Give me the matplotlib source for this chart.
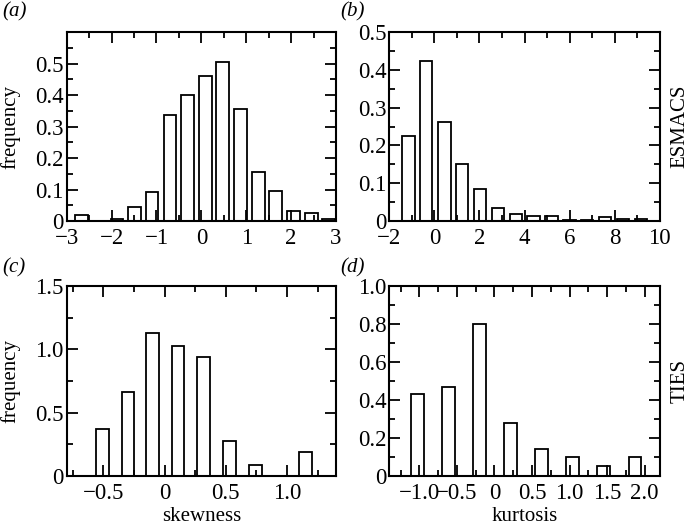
import numpy as np
import matplotlib.pyplot as plt
from matplotlib.ticker import MultipleLocator, FixedLocator, FixedFormatter

plt.rcParams["font.family"] = ["Liberation Serif", "DejaVu Serif"]
plt.rcParams["axes.unicode_minus"] = True

# ESMACS skewness (a)
a_centers = [-2.67, -2.27, -1.88, -1.49, -1.10, -0.70, -0.30, 0.09, 0.48, 0.88, 1.27, 1.66, 2.06, 2.45, 2.84]
a_freq = [0.018, 0.0, 0.006, 0.044, 0.091, 0.337, 0.401, 0.461, 0.506, 0.357, 0.155, 0.096, 0.033, 0.025, 0.005]

# ESMACS kurtosis (b)
b_centers = [-1.15, -0.36, 0.44, 1.23, 2.02, 2.82, 3.61, 4.40, 5.19, 5.99, 6.78, 7.57, 8.37, 9.16]
b_freq = [0.225, 0.423, 0.262, 0.151, 0.084, 0.035, 0.019, 0.012, 0.012, 0.004, 0.003, 0.011, 0.006, 0.006]

# TIES skewness (c)
c_centers = [-0.51, -0.30, -0.10, 0.11, 0.32, 0.53, 0.74, 0.95, 1.15]
c_freq = [0.37, 0.66, 1.13, 1.03, 0.94, 0.28, 0.09, 0.0, 0.19]

# TIES kurtosis (d)
d_centers = [-1.02, -0.61, -0.20, 0.21, 0.63, 1.04, 1.45, 1.87]
d_freq = [0.43, 0.47, 0.80, 0.28, 0.14, 0.10, 0.05, 0.10]

a_xticks = [-3, -2, -1, 0, 1, 2, 3]
a_xlabels = ["\u22123", "\u22122", "\u22121", "0", "1", "2", "3"]
a_yticks = [0, 0.1, 0.2, 0.3, 0.4, 0.5]
a_ylabels = ["0", "0.1", "0.2", "0.3", "0.4", "0.5"]

b_xticks = [-2, 0, 2, 4, 6, 8, 10]
b_xlabels = ["\u22122", "0", "2", "4", "6", "8", "10"]
b_yticks = [0, 0.1, 0.2, 0.3, 0.4, 0.5]
b_ylabels = ["0", "0.1", "0.2", "0.3", "0.4", "0.5"]

c_xticks = [-0.5, 0, 0.5, 1.0]
c_xlabels = ["\u22120.5", "0", "0.5", "1.0"]
c_yticks = [0, 0.5, 1.0, 1.5]
c_ylabels = ["0", "0.5", "1.0", "1.5"]

d_xticks = [-1.0, -0.5, 0, 0.5, 1.0, 1.5, 2.0]
d_xlabels = ["\u22121.0", "\u22120.5", "0", "0.5", "1.0", "1.5", "2.0"]
d_yticks = [0, 0.2, 0.4, 0.6, 0.8, 1.0]
d_ylabels = ["0", "0.2", "0.4", "0.6", "0.8", "1.0"]


def panel(ax, centers, freq, width, xlim, ylim, xt, xl, yt, yl, xminor, yminor):
    ax.bar(centers, freq, width=width, facecolor="white", edgecolor="black", linewidth=1.3)
    ax.set_xlim(xlim)
    ax.set_ylim(ylim)
    ax.xaxis.set_major_locator(FixedLocator(xt))
    ax.xaxis.set_major_formatter(FixedFormatter(xl))
    ax.yaxis.set_major_locator(FixedLocator(yt))
    ax.yaxis.set_major_formatter(FixedFormatter(yl))
    ax.xaxis.set_minor_locator(MultipleLocator(xminor))
    ax.yaxis.set_minor_locator(MultipleLocator(yminor))
    ax.tick_params(which="both", direction="in", top=True, right=True, width=1.3)
    ax.tick_params(which="major", length=8, labelsize=16.5)
    ax.tick_params(axis="x", which="major", pad=5)
    ax.tick_params(axis="y", which="major", pad=2)
    ax.tick_params(which="minor", length=4)
    for s in ax.spines.values():
        s.set_linewidth(1.5)


fig = plt.figure(figsize=(6.94, 5.27), dpi=100)
ax_a = fig.add_axes([0.0961, 0.5806, 0.388, 0.3586])
ax_b = fig.add_axes([0.561, 0.5806, 0.3896, 0.3586])
ax_c = fig.add_axes([0.0961, 0.0968, 0.388, 0.3605])
ax_d = fig.add_axes([0.561, 0.0968, 0.3896, 0.3605])

panel(ax_a, a_centers, a_freq, 0.285, (-3, 3), (0, 0.6), a_xticks, a_xlabels, a_yticks, a_ylabels, 0.5, 0.05)
panel(ax_b, b_centers, b_freq, 0.55, (-2, 10), (0, 0.5), b_xticks, b_xlabels, b_yticks, b_ylabels, 1, 0.05)
panel(ax_c, c_centers, c_freq, 0.104, (-0.8, 1.4), (0, 1.5), c_xticks, c_xlabels, c_yticks, c_ylabels, 0.25, 0.25)
panel(ax_d, d_centers, d_freq, 0.17, (-1.4, 2.2), (0, 1.0), d_xticks, d_xlabels, d_yticks, d_ylabels, 0.25, 0.1)

for ax in (ax_a, ax_c):
    ax.set_ylabel("frequency", fontsize=15, va="center")
    ax.yaxis.set_label_coords(-0.21, 0.5)

ax_c.set_xlabel("skewness", fontsize=15, labelpad=2)
ax_d.set_xlabel("kurtosis", fontsize=15, labelpad=2)

ax_b.text(1.075, 0.5, "ESMACS", rotation=90, fontsize=15, ha="center", va="center", transform=ax_b.transAxes)
ax_d.text(1.075, 0.5, "TIES", rotation=90, fontsize=15, ha="center", va="center", transform=ax_d.transAxes)

fig.text(0.003, 0.995, "(a)", fontsize=15, style="italic", va="top")
fig.text(0.49, 0.995, "(b)", fontsize=15, style="italic", va="top")
fig.text(0.003, 0.51, "(c)", fontsize=15, style="italic", va="top")
fig.text(0.49, 0.51, "(d)", fontsize=15, style="italic", va="top")

fig.savefig("out.png", dpi=100)
